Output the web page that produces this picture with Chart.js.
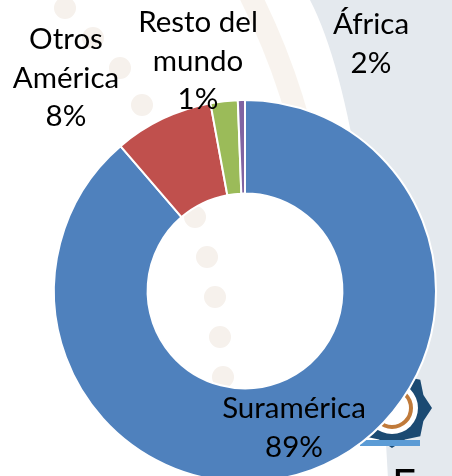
<!DOCTYPE html>
<html>
<head>
<meta charset="utf-8">
<script src="https://cdn.jsdelivr.net/npm/chart.js@4.4.1/dist/chart.umd.min.js"></script>
<style>
  html, body { margin: 0; padding: 0; overflow: hidden; background: #fff; }
  #wrap { position: absolute; left: 0; top: 0; width: 452px; height: 520px; }
</style>
</head>
<body>
<div id="wrap"><canvas id="my-Chart" width="452" height="520"></canvas></div>
<script>
const regions = ['Suramérica', 'Otros América', 'África', 'Resto del mundo'];
const shares = [88.7, 8.4, 2.3, 0.6];
const sliceColors = ['#4F81BD', '#C0504D', '#9BBB59', '#8064A2'];

// where each data label sits (manually placed in the original slide)
const labelSpots = [
    { x: 294, y: 418, lines: ['Suramérica'] },
    { x: 66, y: 49, lines: ['Otros', 'América'] },
    { x: 371, y: 34, lines: ['África'] },
    { x: 198, y: 32, lines: ['Resto del', 'mundo'] }
];

// slide template behind the chart
const slideBackground = {
    id: 'slideBackground',
    beforeDraw(chart) {
        const c = chart.ctx;
        c.save();
        c.fillStyle = '#fff';
        c.fillRect(0, 0, chart.width, chart.height);

        // grey panel on the right
        c.fillStyle = '#E4E9EE';
        c.beginPath();
        c.moveTo(310, 0);
        c.quadraticCurveTo(372, 120, 390, 520);
        c.lineTo(452, 520);
        c.lineTo(452, 0);
        c.closePath();
        c.fill();

        // beige swoosh
        c.strokeStyle = 'rgba(243, 234, 224, 0.55)';
        c.lineWidth = 22;
        c.beginPath();
        c.moveTo(250, -5);
        c.quadraticCurveTo(298, 90, 316, 200);
        c.stroke();

        // dots
        c.fillStyle = '#F6F1EC';
        [[65, 8], [93, 38], [120, 68], [142, 105], [195, 217], [207, 257],
         [215, 297], [220, 337], [223, 377]].forEach(p => {
            c.beginPath();
            c.arc(p[0], p[1], 11, 0, Math.PI * 2);
            c.fill();
        });

        // gear logo
        c.fillStyle = '#1B4A72';
        c.beginPath();
        for (let i = 0; i < 16; i++) {
            const a = i / 16 * Math.PI * 2;
            const r = i % 2 ? 34 : 40;
            c.lineTo(392 + Math.cos(a) * r, 408 + Math.sin(a) * r);
        }
        c.closePath();
        c.fill();
        c.fillStyle = '#fff';
        c.beginPath();
        c.arc(392, 408, 26, 0, Math.PI * 2);
        c.fill();
        c.strokeStyle = '#C07A3A';
        c.lineWidth = 4;
        c.beginPath();
        c.arc(392, 408, 19, 0, Math.PI * 2);
        c.stroke();
        c.fillStyle = '#5B9BD5';
        c.fillRect(360, 440, 60, 6);

        c.fillStyle = '#000';
        c.font = '42px Lato';
        c.textAlign = 'left';
        c.textBaseline = 'alphabetic';
        c.fillText('Eve', 392, 500);
        c.restore();
    }
};

const sliceLabels = {
    id: 'sliceLabels',
    afterDraw(chart) {
        const c = chart.ctx;
        const data = chart.data.datasets[0].data;
        const total = data.reduce((a, b) => a + b, 0);
        c.save();
        c.fillStyle = '#000';
        c.font = '29.5px Lato';
        c.textAlign = 'center';
        c.textBaseline = 'alphabetic';
        labelSpots.forEach((s, i) => {
            const lines = s.lines.concat(Math.round(data[i] / total * 100) + '%');
            lines.forEach((t, k) => c.fillText(t, s.x, s.y + k * 38.5));
        });
        c.restore();
    }
};

const ctx = document.getElementById('my-Chart').getContext('2d');

const myChart = new Chart(ctx, {
    type: 'doughnut',
    data: {
        labels: regions,
        datasets: [{
            data: shares,
            backgroundColor: sliceColors,
            borderColor: '#fff',
            borderWidth: 2
        }]
    },
    options: {
        responsive: false,
        animation: false,
        cutout: '51%',
        layout: {
            padding: { left: 53, right: 15, top: 99, bottom: 37 }
        },
        plugins: {
            legend: { display: false },
            tooltip: { enabled: false }
        }
    },
    plugins: [slideBackground, sliceLabels]
});
</script>
</body>
</html>
